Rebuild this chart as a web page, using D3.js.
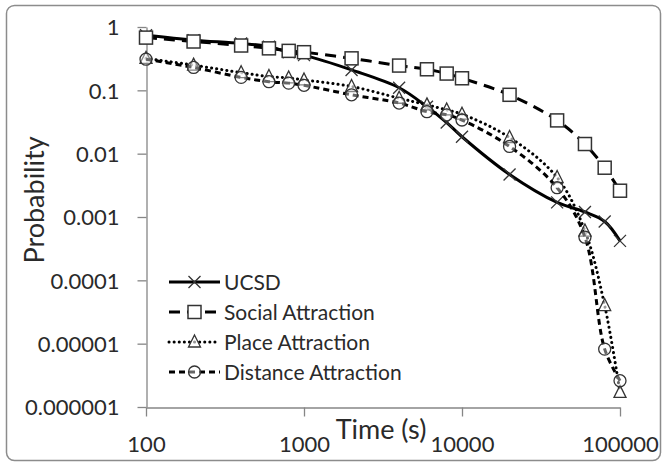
<!DOCTYPE html>
<html>
<head>
<meta charset="utf-8">
<script src="https://cdn.jsdelivr.net/npm/d3@7"></script>
<style>
  body { margin: 0; background: #fff; }
  text { font-family: Lato, "Open Sans", sans-serif; fill: #2a2a2a; }
</style>
</head>
<body>
<svg id="chart" width="665" height="466"></svg>
<script>
// data
var times = [100, 200, 400, 600, 800, 1000, 2000, 4000, 6000, 8000, 10000, 20000, 40000, 60000, 80000, 100000];
var ucsd = [0.74, 0.62, 0.55, 0.49, 0.40, 0.36, 0.21, 0.11, 0.055, 0.031, 0.0185, 0.0047, 0.0017, 0.0012, 0.00085, 0.00042];
var social = [0.68, 0.59, 0.51, 0.46, 0.42, 0.40, 0.32, 0.246, 0.215, 0.184, 0.155, 0.085, 0.0335, 0.0142, 0.006, 0.0026];
var place = [0.32, 0.25, 0.19, 0.165, 0.157, 0.146, 0.115, 0.075, 0.059, 0.049, 0.042, 0.018, 0.0042, 0.0006, 0.00004, 0.0000017];
var distance = [0.31, 0.23, 0.16, 0.137, 0.13, 0.12, 0.085, 0.063, 0.046, 0.041, 0.034, 0.013, 0.0029, 0.00048, 0.0000082, 0.0000026];

var xTicks = [100, 1000, 10000, 100000];
var yTicks = [1, 0.1, 0.01, 0.001, 0.0001, 0.00001, 0.000001];
var yTickLabels = ["1", "0.1", "0.01", "0.001", "0.0001", "0.00001", "0.000001"];
var seriesNames = ["UCSD", "Social Attraction", "Place Attraction", "Distance Attraction"];

var svg = d3.select("#chart");

// 바깥 테두리
svg.append("rect")
  .attr("x", 6.5).attr("y", 5.5)
  .attr("width", 654).attr("height", 455)
  .attr("rx", 8)
  .attr("fill", "#fff")
  .attr("stroke", "#8c8c8c")
  .attr("stroke-width", 1.5);

var xScale = d3.scaleLog().domain([100, 100000]).range([146, 620]);
var yScale = d3.scaleLog().domain([0.000001, 1]).range([407, 27]);

// axes
var axisColor = "#868686";
var gx = svg.append("g")
  .attr("transform", "translate(0,407.5)")
  .call(d3.axisBottom(xScale).tickValues(xTicks).tickFormat(d3.format("d")).tickSize(9).tickSizeOuter(0).tickPadding(20));
var gy = svg.append("g")
  .attr("transform", "translate(146.5,0)")
  .call(d3.axisLeft(yScale).tickValues(yTicks).tickFormat(function(d, i) { return yTickLabels[i]; }).tickSize(9).tickSizeOuter(0).tickPadding(18));

[gx, gy].forEach(function(g) {
  g.select(".domain").attr("stroke", axisColor).attr("stroke-width", 1.3);
  g.selectAll(".tick line").attr("stroke", axisColor).attr("stroke-width", 1.3);
  g.selectAll(".tick text")
    .style("font-family", "Lato, sans-serif")
    .style("font-size", "22px")
    .attr("fill", "#2a2a2a");
});
gy.selectAll(".tick text").attr("dy", "0.36em");
gx.selectAll(".tick text").attr("dy", "0.71em");

// axis titles
svg.append("text")
  .attr("x", 381).attr("y", 439)
  .attr("text-anchor", "middle")
  .style("font-size", "27px")
  .text("Time (s)");
svg.append("text")
  .attr("transform", "translate(44,200) rotate(-90)")
  .attr("text-anchor", "middle")
  .style("font-size", "27px")
  .text("Probability");

// series styles
var styles = [
  { data: ucsd, dash: null, width: 3, cap: "butt", marker: "x" },
  { data: social, dash: "11,7", width: 3, cap: "butt", marker: "square" },
  { data: place, dash: "0.1,5", width: 3, cap: "round", marker: "triangle" },
  { data: distance, dash: "6,4", width: 3, cap: "butt", marker: "circle" }
];

var line = d3.line()
  .x(function(d) { return xScale(d.t); })
  .y(function(d) { return yScale(d.v); })
  .curve(d3.curveCatmullRom.alpha(0.5));

var markerColor = "#333";

function drawMarker(g, type, cx, cy) {
  if (type === "x") {
    g.append("path")
      .attr("d", "M" + (cx - 6) + "," + (cy - 6) + "L" + (cx + 6) + "," + (cy + 6) + "M" + (cx - 6) + "," + (cy + 6) + "L" + (cx + 6) + "," + (cy - 6))
      .attr("stroke", markerColor).attr("stroke-width", 1.3).attr("fill", "none");
  } else if (type === "square") {
    g.append("rect")
      .attr("x", cx - 6.5).attr("y", cy - 6.5).attr("width", 13).attr("height", 13)
      .attr("fill", "#fff").attr("stroke", markerColor).attr("stroke-width", 1.5);
  } else if (type === "triangle") {
    g.append("path")
      .attr("d", "M" + cx + "," + (cy - 7) + "L" + (cx + 6) + "," + (cy + 5) + "L" + (cx - 6) + "," + (cy + 5) + "Z")
      .attr("fill", "#fff").attr("fill-opacity", 0.6).attr("stroke", markerColor).attr("stroke-width", 1.3);
  } else if (type === "circle") {
    g.append("circle")
      .attr("cx", cx).attr("cy", cy).attr("r", 6)
      .attr("fill", "#fff").attr("fill-opacity", 0.4).attr("stroke", markerColor).attr("stroke-width", 1.3);
  }
}

styles.forEach(function(s) {
  var pts = times.map(function(t, i) { return { t: t, v: s.data[i] }; });
  svg.append("path")
    .datum(pts)
    .attr("d", line)
    .attr("fill", "none")
    .attr("stroke", "#000")
    .attr("stroke-width", s.width)
    .attr("stroke-linecap", s.cap)
    .attr("stroke-dasharray", s.dash);
  var g = svg.append("g");
  pts.forEach(function(p) { drawMarker(g, s.marker, xScale(p.t), yScale(p.v)); });
});

// legend
var legendY = [282, 312, 342, 372];
var legend = svg.append("g");
styles.forEach(function(s, i) {
  var y = legendY[i];
  legend.append("line")
    .attr("x1", 169).attr("x2", 220).attr("y1", y).attr("y2", y)
    .attr("stroke", "#000").attr("stroke-width", s.width)
    .attr("stroke-linecap", s.cap)
    .attr("stroke-dasharray", s.dash);
  drawMarker(legend, s.marker, 194.5, y);
  legend.append("text")
    .attr("x", 224).attr("y", y)
    .attr("dy", "0.36em")
    .style("font-size", "21px")
    .text(seriesNames[i]);
});
</script>
</body>
</html>
